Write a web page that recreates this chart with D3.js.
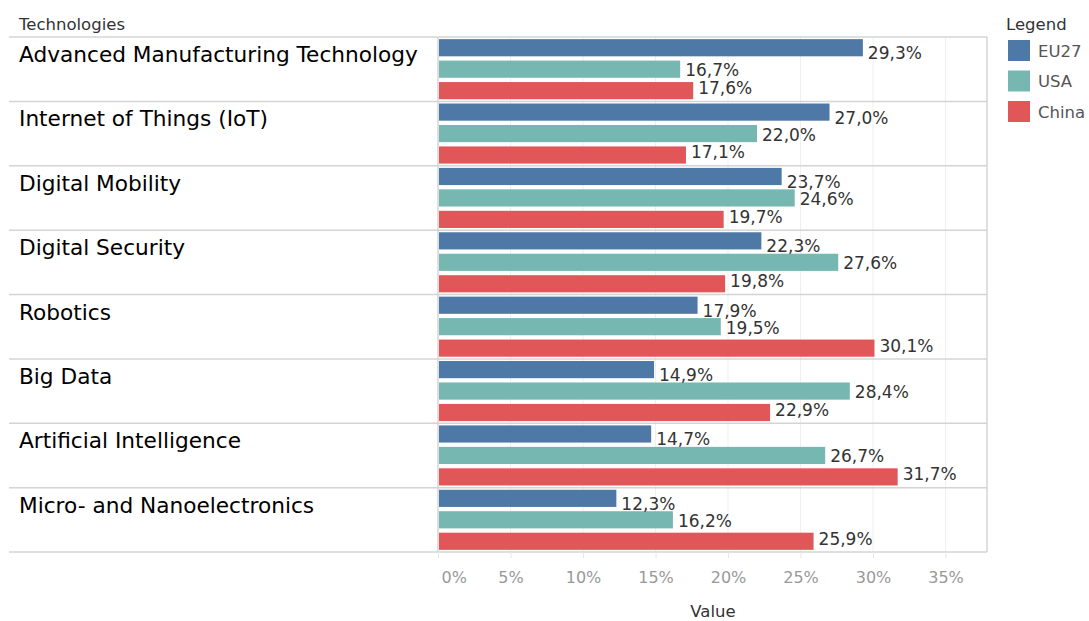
<!DOCTYPE html>
<html>
<head>
<meta charset="utf-8">
<script src="https://cdn.jsdelivr.net/npm/d3@7"></script>
<style>
  body { margin: 0; background: #fff; }
  text { font-family: "DejaVu Sans", "Noto Sans", sans-serif; }
</style>
</head>
<body>
<div id="chart"></div>
<script>
const categories = [
  "Advanced Manufacturing Technology",
  "Internet of Things (IoT)",
  "Digital Mobility",
  "Digital Security",
  "Robotics",
  "Big Data",
  "Artificial Intelligence",
  "Micro- and Nanoelectronics"
];
const seriesNames = ["EU27", "USA", "China"];
const eu27 = [29.3, 27.0, 23.7, 22.3, 17.9, 14.9, 14.7, 12.3];
const usa = [16.7, 22.0, 24.6, 27.6, 19.5, 28.4, 26.7, 16.2];
const china = [17.6, 17.1, 19.7, 19.8, 30.1, 22.9, 31.7, 25.9];
const tickValues = [0, 5, 10, 15, 20, 25, 30, 35];

const width = 1089;
const height = 621;
const plotLeft = 438, plotRight = 987, plotTop = 37, plotBottom = 552, headerLeft = 9;

const colors = ["#4e79a7", "#76b7b2", "#e15759"];
const labelShift = [5.5, 1, -2.5];

const locale = d3.formatLocale({decimal: ",", thousands: ".", grouping: [3], currency: ["", "€"]});
const fmt = locale.format(".1f");

const rows = categories.map((c, i) => ({
  name: c,
  values: [eu27[i], usa[i], china[i]]
}));

const svg = d3.select("#chart").append("svg")
    .attr("width", width)
    .attr("height", height);

const x = d3.scaleLinear()
    .domain([0, 37.86])
    .range([plotLeft, plotRight]);

const y = d3.scaleBand()
    .domain(categories)
    .range([plotTop, plotBottom]);

const ySub = d3.scaleBand()
    .domain(seriesNames)
    .range([0, y.bandwidth()])
    .paddingInner(0.2)
    .paddingOuter(0.1);

// gridlines
svg.append("g")
  .selectAll("line")
  .data(tickValues.slice(1))
  .join("line")
    .attr("x1", d => x(d)).attr("x2", d => x(d))
    .attr("y1", plotTop).attr("y2", plotBottom)
    .attr("stroke", "#efefef")
    .attr("stroke-width", 1);

// row dividers
svg.append("g")
  .selectAll("line")
  .data(categories.map(c => y(c)).concat([plotBottom]))
  .join("line")
    .attr("x1", headerLeft).attr("x2", plotRight)
    .attr("y1", d => d).attr("y2", d => d)
    .attr("stroke", "#d4d4d4")
    .attr("stroke-width", 1.5);

// plot borders
svg.append("line")
    .attr("x1", plotLeft).attr("x2", plotLeft)
    .attr("y1", plotTop).attr("y2", plotBottom)
    .attr("stroke", "#d4d4d4").attr("stroke-width", 1.5);
svg.append("line")
    .attr("x1", plotRight).attr("x2", plotRight)
    .attr("y1", plotTop).attr("y2", plotBottom)
    .attr("stroke", "#d4d4d4").attr("stroke-width", 1.5);

// header
svg.append("text")
    .attr("x", 19).attr("y", 30)
    .attr("font-size", 16.5)
    .attr("fill", "#333")
    .text("Technologies");

// category labels
const catLabels = svg.append("g")
  .selectAll("text")
  .data(categories)
  .join("text")
    .attr("x", 19)
    .attr("y", d => y(d) + 25)
    .attr("font-size", 20)
    .attr("fill", "#000")
    .text(d => d);

// fit the longest label to the width it has in the original (about 399px)
const longest = d3.max(catLabels.nodes(), n => n.getComputedTextLength());
catLabels.attr("font-size", 20 * 399 / longest);

// bars
const groups = svg.append("g")
  .selectAll("g")
  .data(rows)
  .join("g")
    .attr("transform", d => `translate(0,${y(d.name)})`);

groups.selectAll("rect")
  .data(d => d.values.map((v, k) => ({series: seriesNames[k], k, v})))
  .join("rect")
    .attr("x", x(0) + 1)
    .attr("y", d => ySub(d.series))
    .attr("width", d => x(d.v) - x(0) - 1)
    .attr("height", ySub.bandwidth())
    .attr("fill", d => colors[d.k]);

groups.selectAll("text")
  .data(d => d.values.map((v, k) => ({series: seriesNames[k], k, v})))
  .join("text")
    .attr("x", d => x(d.v) + 5)
    .attr("y", d => ySub(d.series) + ySub.bandwidth() / 2 + labelShift[d.k])
    .attr("dy", "0.35em")
    .attr("font-size", 17)
    .attr("fill", "#333")
    .text(d => fmt(d.v) + "%");

// x axis
const axis = svg.append("g")
    .attr("transform", `translate(0,${plotBottom})`)
    .call(d3.axisBottom(x).tickValues(tickValues).tickSize(6).tickFormat(d => d + "%"));
axis.select(".domain").remove();
axis.selectAll(".tick line").attr("stroke", "#e6e6e6");
axis.selectAll(".tick text")
    .attr("font-size", 16)
    .attr("fill", "#999")
    .attr("font-family", "\"DejaVu Sans\", sans-serif")
    .attr("y", 20)
    .attr("dy", "0.71em");
axis.selectAll(".tick").filter(d => d === 0).select("text")
    .attr("text-anchor", "start").attr("x", 3);

svg.append("text")
    .attr("x", 713).attr("y", 617)
    .attr("text-anchor", "middle")
    .attr("font-size", 16.5)
    .attr("fill", "#333")
    .text("Value");

// legend
svg.append("text")
    .attr("x", 1006).attr("y", 30)
    .attr("font-size", 16.5)
    .attr("fill", "#333")
    .text("Legend");

const legend = svg.append("g")
  .selectAll("g")
  .data(seriesNames)
  .join("g")
    .attr("transform", (d, i) => `translate(1008,${40 + i * 30.5})`);
legend.append("rect")
    .attr("width", 22).attr("height", 21)
    .attr("fill", (d, i) => colors[i]);
legend.append("text")
    .attr("x", 30).attr("y", 11)
    .attr("dy", "0.35em")
    .attr("font-size", 16.5)
    .attr("fill", "#555")
    .text(d => d);
</script>
</body>
</html>
